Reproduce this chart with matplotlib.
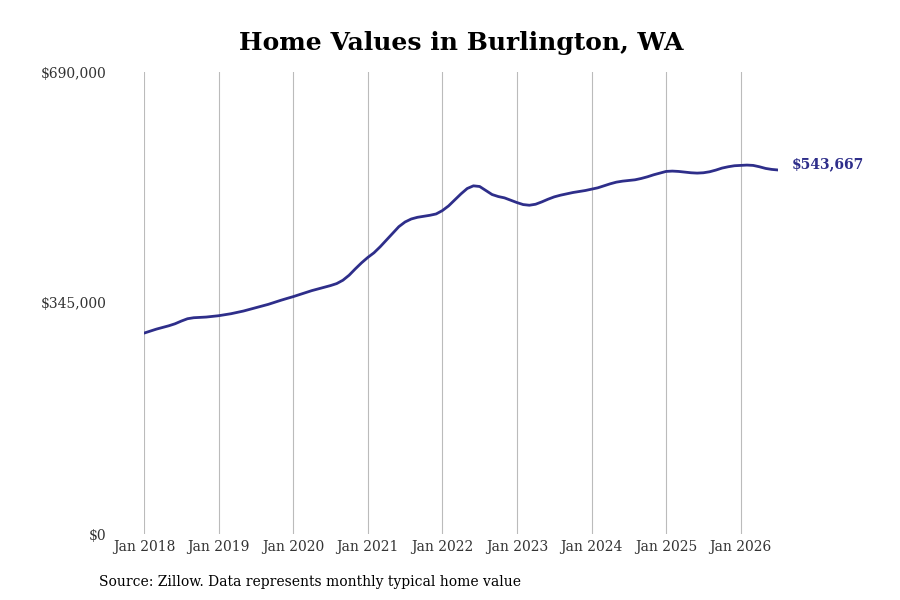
import matplotlib
matplotlib.use("Agg")
import matplotlib.pyplot as plt
import numpy as np

# monthly typical home value, Jan 2018 .. Jul 2026
values = [
    300000, 303000, 306000, 308500, 311000, 314000, 318000, 321500, 323000, 323500, 324000, 325000,  # 2018
    326000, 327500, 329000, 331000, 333000, 335500, 338000, 340500, 343000, 346000, 349000, 351800,  # 2019
    354500, 357500, 360500, 363500, 366000, 368500, 371000, 374000, 379000, 386500, 396000, 405000,  # 2020
    413000, 420000, 429000, 439000, 449000, 459000, 466000, 470500, 473000, 474500, 476000, 478000,  # 2021
    483000, 490000, 499000, 508000, 516000, 520000, 519000, 513000, 507000, 504000, 502000, 498500,  # 2022
    495000, 492000, 491000, 492500, 496000, 500000, 503500, 506000, 508000, 510000, 511500, 513000,  # 2023
    515000, 517000, 520000, 523000, 525500, 527000, 528000, 529000, 531000, 533500, 536500, 539000,  # 2024
    541500, 542000, 541500, 540500, 539500, 539000, 539500, 541000, 543500, 546500, 548500, 550000,  # 2025
    550500, 551000, 550500, 548500, 546000, 544500, 543667,                                          # 2026
]
year_labels = ["Jan 2018", "Jan 2019", "Jan 2020", "Jan 2021", "Jan 2022",
               "Jan 2023", "Jan 2024", "Jan 2025", "Jan 2026"]
y_ticks = [0, 345000, 690000]
y_labels = ["$0", "$345,000", "$690,000"]
title = "Home Values in Burlington, WA"
source = "Source: Zillow. Data represents monthly typical home value"

plt.rcParams['font.family'] = 'DejaVu Serif'
line_color = '#2e2e8a'

fig = plt.figure(figsize=(9, 6), dpi=100)
ax = fig.add_axes([144/900, 66/600, (778-144)/900, 462/600])

months = np.arange(len(values))
ax.plot(months, values, color=line_color, lw=2.0, solid_capstyle='round')

ax.set_xlim(0, len(values) - 1)
ax.set_ylim(0, 690000)
ax.set_xticks(np.arange(len(year_labels)) * 12)
ax.set_xticklabels(year_labels, fontsize=10, color='#333333')
ax.set_yticks(y_ticks)
ax.set_yticklabels(y_labels, fontsize=10, color='#333333')
ax.tick_params(axis='both', length=0)
ax.tick_params(axis='y', pad=27)
ax.tick_params(axis='x', pad=4)
ax.xaxis.grid(True, color='#bbbbbb', lw=0.8)
ax.yaxis.grid(False)
for s in ax.spines.values():
    s.set_visible(False)

ax.annotate(f"${values[-1]:,.0f}", (months[-1], values[-1]),
            xytext=(10, 4), textcoords='offset points',
            color=line_color, fontsize=10, fontweight='bold', va='center', ha='left')

fig.text(461/900, 1 - 43/600, title, ha='center', va='center', fontsize=18, fontweight='bold')
fig.text(99/900, 1 - 582/600, source, ha='left', va='center', fontsize=10)

fig.savefig("out.png", dpi=100)
